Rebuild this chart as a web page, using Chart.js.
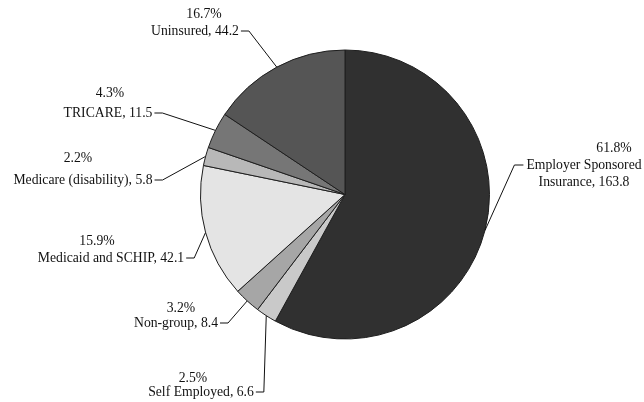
<!DOCTYPE html>
<html>
<head>
<meta charset="utf-8">
<script src="https://cdn.jsdelivr.net/npm/chart.js@4.4.1/dist/chart.umd.min.js"></script>
<style>
  html, body { margin: 0; padding: 0; background: #fff; }
  #wrap { width: 644px; height: 402px; position: relative; }
</style>
</head>
<body>
<div id="wrap"><canvas id="pie"></canvas></div>
<script>
// data (millions), clockwise from 12 o'clock
const categories = ['Employer Sponsored Insurance', 'Self Employed', 'Non-group', 'Medicaid and SCHIP', 'Medicare (disability)', 'TRICARE', 'Uninsured'];
const values = [163.8, 6.6, 8.4, 42.1, 5.8, 11.5, 44.2];
const percents = ['61.8%', '2.5%', '3.2%', '15.9%', '2.2%', '4.3%', '16.7%'];

const fills = ['#303030', '#c9c9c9', '#a6a6a6', '#e4e4e4', '#b8b8b8', '#767676', '#555555'];

// where each label sits (name center / percent center), side = which way the leader goes
const labelLayout = [
  { nx: 584, ny: 165, px: 614, py: 148, side: 'left', wrap: 118 },
  { nx: 201, ny: 392, px: 193, py: 378, side: 'right' },
  { nx: 176, ny: 323, px: 181, py: 308, side: 'right' },
  { nx: 111, ny: 258, px: 97, py: 241, side: 'right' },
  { nx: 83, ny: 180, px: 78, py: 158, side: 'right' },
  { nx: 108, ny: 113, px: 110, py: 93, side: 'right' },
  { nx: 195, ny: 31, px: 204, py: 14, side: 'right' }
];

const FONT = '13.7px "Liberation Serif", "Times New Roman", serif';

function wrapText(ctx, text, maxW) {
  if (!maxW) return [text];
  const words = text.split(' ');
  const lines = [];
  let cur = '';
  for (const w of words) {
    const t = cur ? cur + ' ' + w : w;
    if (ctx.measureText(t).width > maxW && cur) {
      lines.push(cur);
      cur = w;
    } else {
      cur = t;
    }
  }
  lines.push(cur);
  return lines;
}

const calloutPlugin = {
  id: 'callouts',
  afterDraw(chart) {
    const ctx = chart.ctx;
    const arcs = chart.getDatasetMeta(0).data;
    ctx.save();
    ctx.font = FONT;
    ctx.fillStyle = '#111';
    ctx.strokeStyle = '#111';
    ctx.lineWidth = 1;
    ctx.textAlign = 'center';
    ctx.textBaseline = 'middle';

    arcs.forEach((arc, i) => {
      const lay = labelLayout[i];
      const mid = (arc.startAngle + arc.endAngle) / 2;
      const ex = arc.x + Math.cos(mid) * arc.outerRadius;
      const ey = arc.y + Math.sin(mid) * arc.outerRadius;

      ctx.fillText(percents[i], lay.px, lay.py);

      const lines = wrapText(ctx, categories[i] + ', ' + values[i], lay.wrap);
      let firstW = 0;
      lines.forEach((ln, k) => {
        ctx.fillText(ln, lay.nx, lay.ny + k * 17);
        if (k === 0) firstW = ctx.measureText(ln).width;
      });

      let sx, kx;
      if (lay.side === 'right') {
        sx = lay.nx + firstW / 2 + 2;
        kx = sx + 8;
      } else {
        sx = lay.nx - firstW / 2 - 3;
        kx = sx - 9;
      }
      ctx.beginPath();
      ctx.moveTo(sx, lay.ny);
      ctx.lineTo(kx, lay.ny);
      ctx.lineTo(ex, ey);
      ctx.stroke();
    });
    ctx.restore();
  }
};

new Chart(document.getElementById('pie'), {
  type: 'pie',
  data: {
    labels: categories,
    datasets: [{
      data: values,
      backgroundColor: fills,
      borderColor: '#1e1e1e',
      borderWidth: 1
    }]
  },
  options: {
    responsive: true,
    maintainAspectRatio: false,
    animation: false,
    layout: { padding: { left: 200, right: 154, top: 49, bottom: 62 } },
    plugins: {
      legend: { display: false },
      tooltip: { enabled: false }
    }
  },
  plugins: [calloutPlugin]
});
</script>
</body>
</html>
